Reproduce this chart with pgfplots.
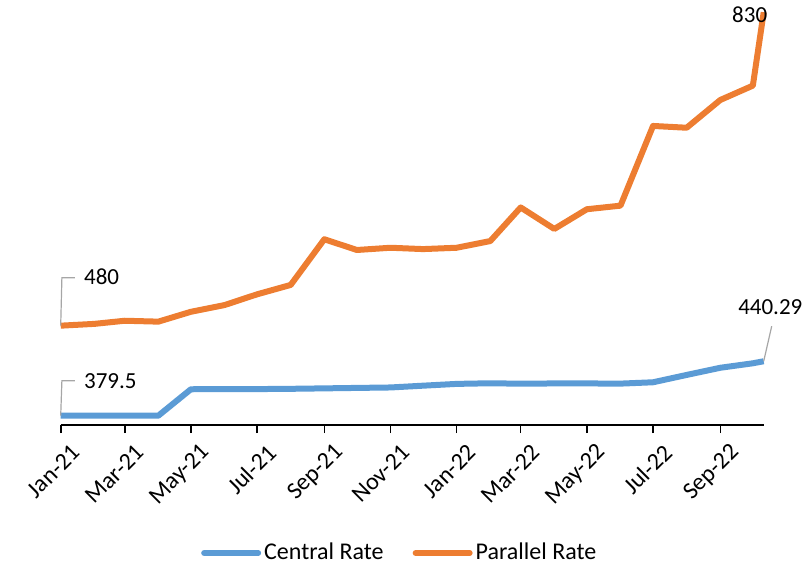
\documentclass[border=0pt]{standalone}
\usepackage{fontspec}
\setmainfont{Carlito}
\usepackage{pgfplots}
\pgfplotsset{compat=1.18}
\usepackage{pgfplotstable}

\definecolor{central}{HTML}{5B9BD5}
\definecolor{parallel}{HTML}{ED7D31}
\definecolor{leader}{HTML}{A6A6A6}

% days since 1 Jan 2021, central rate, parallel rate
\pgfplotstableread{
day  central  parallel
0    379.5    480
31   379.5    482
59   379.5    485.5
90   379.5    484.5
120  409.0    495.5
151  409.2    503
181  409.2    515
212  409.5    525.5
243  410.0    576.5
273  410.5    564.5
304  411.0    567
334  413.0    565.5
365  415.0    567
396  415.7    574.5
424  415.2    612
455  415.5    588
485  415.5    610
516  415.3    614
546  416.8    703
577  425.0    701
608  433.0    732
638  438.0    748
648  440.29   830
}\rates

\begin{document}
\fontsize{11.5}{13.8}\selectfont
\begin{tikzpicture}
\begin{axis}[
  at={(0,0)}, anchor=south west,
  scale only axis,
  width=351.5pt, height=215.4pt,
  xmin=0, xmax=648,
  ymin=369, ymax=850,
  clip=false,
  axis x line*=bottom,
  axis y line=none,
  x axis line style={black, line width=1pt, -},
  xtick={0,59,120,181,243,304,365,424,485,546,608},
  xticklabels={Jan-21,Mar-21,May-21,Jul-21,Sep-21,Nov-21,Jan-22,Mar-22,May-22,Jul-22,Sep-22},
  tick align=outside,
  major tick length=4pt,
  tick style={black, line width=0.8pt},
  xticklabel style={rotate=45, anchor=east, inner sep=0pt, font=\fontsize{12}{14.4}\selectfont, xshift=0pt, yshift=-11pt},
  legend style={draw=none, fill=none, at={(0.483,-0.297)}, anchor=center,
    legend columns=2, font=\fontsize{12}{14.4}\selectfont,
    /tikz/every even column/.append style={column sep=13pt},
    nodes={inner sep=1.5pt}},
  legend image code/.code={\draw[#1, line cap=round] (0pt,0pt) -- (27pt,0pt);},
  every axis plot/.append style={line width=3pt, line join=round},
]
\addplot[central] table[x=day, y=central] {\rates};
\addlegendentry{Central Rate}
\addplot[parallel] table[x=day, y=parallel] {\rates};
\addlegendentry{Parallel Rate}

% value callouts with leader lines
\draw[leader, line width=0.6pt] (axis cs:0,480) -- ++(0.6pt,24pt) -- ++(6.5pt,0pt);
\node[anchor=west, inner sep=0pt] at ([shift={(11.5pt,24.5pt)}]axis cs:0,480) {480};
\draw[leader, line width=0.6pt] (axis cs:0,379.5) -- ++(0.6pt,17.5pt) -- ++(6.5pt,0pt);
\node[anchor=west, inner sep=0pt] at ([shift={(11.5pt,17.5pt)}]axis cs:0,379.5) {379.5};
\draw[leader, line width=0.6pt] (axis cs:648,440.29) -- ++(4pt,17.5pt);
\node[inner sep=0pt] at ([shift={(3.3pt,27pt)}]axis cs:648,440.29) {440.29};
\node[inner sep=0pt] at ([shift={(-7pt,-1.5pt)}]axis cs:648,830) {830};
\end{axis}
\pgfresetboundingbox
\path[use as bounding box] (-30.35pt,-69.95pt) rectangle (371.65pt,212.55pt);
\end{tikzpicture}
\end{document}
